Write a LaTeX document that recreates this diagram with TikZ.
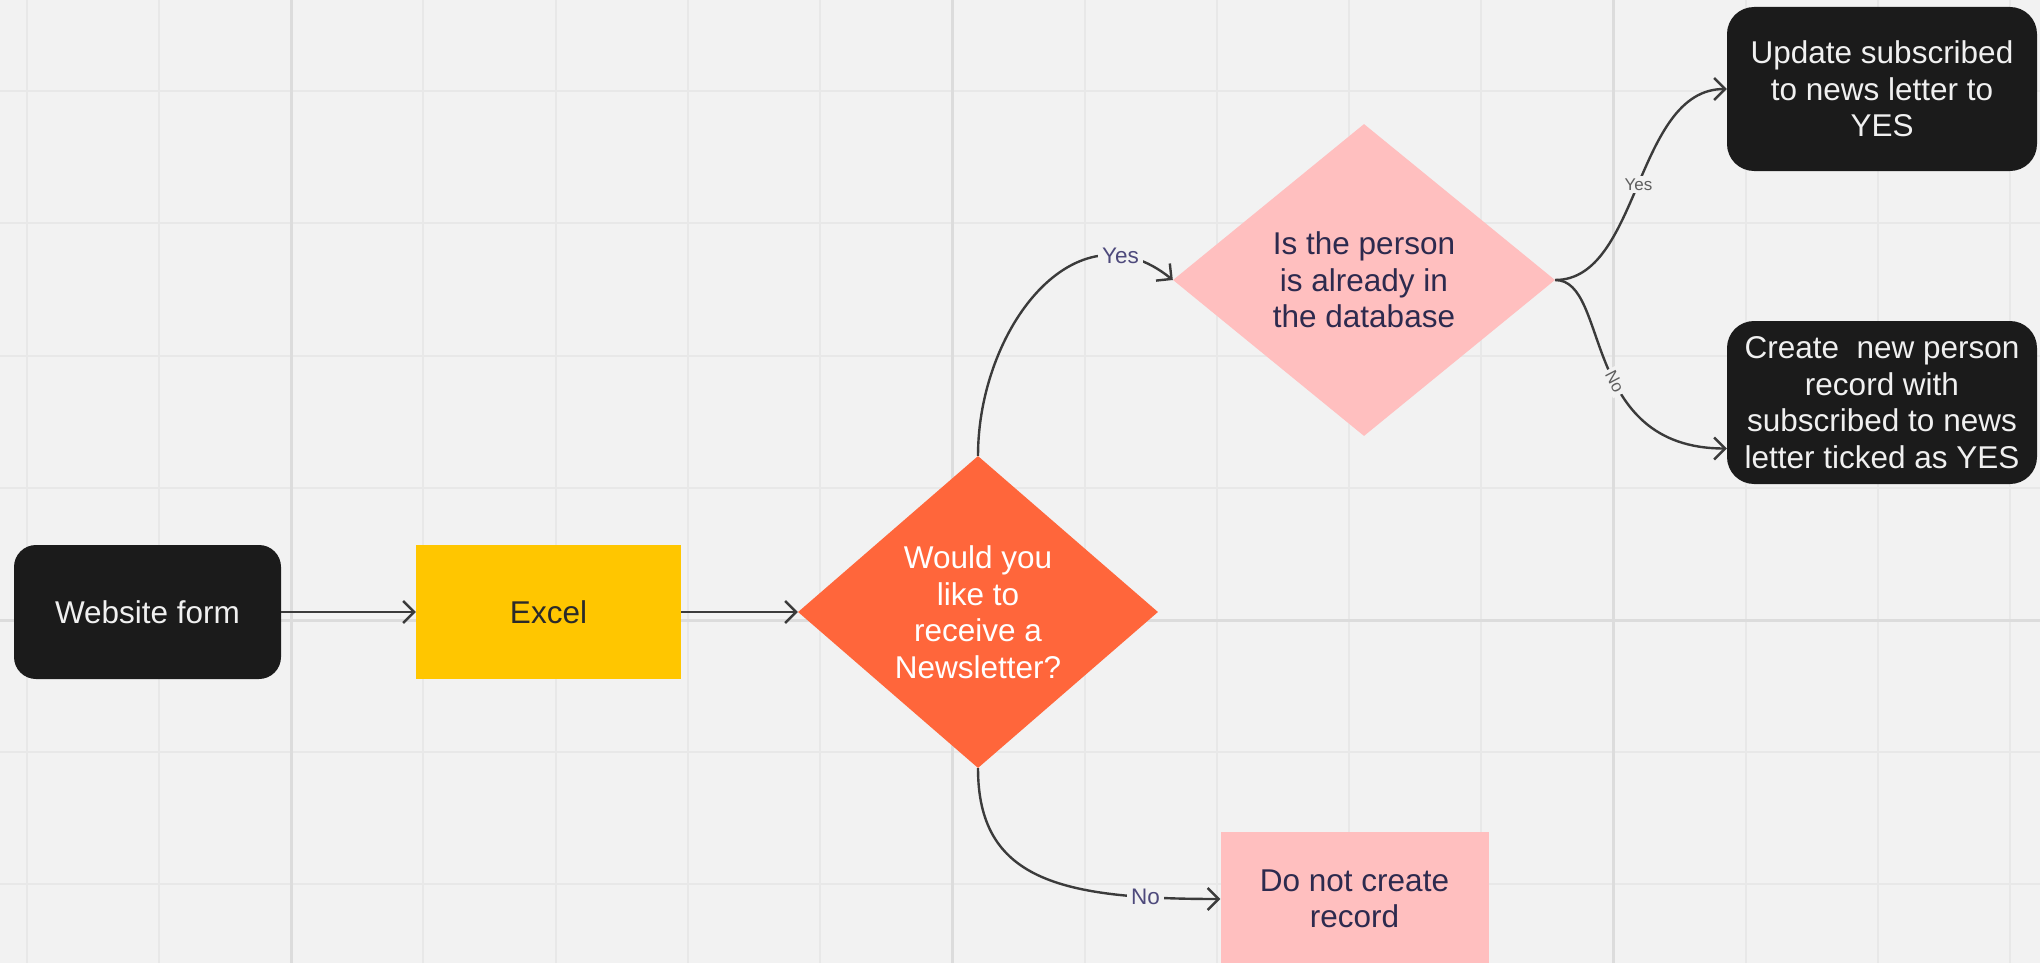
\documentclass[tikz,border=0pt]{standalone}
\usepackage{fontspec}
\setmainfont{Liberation Sans}
\usetikzlibrary{shapes.geometric,arrows.meta}
\definecolor{bg}{HTML}{F2F2F2}
\definecolor{gridminor}{HTML}{E8E8E8}
\definecolor{gridmajor}{HTML}{DCDCDC}
\definecolor{boxblack}{HTML}{1B1B1B}
\definecolor{excelyellow}{HTML}{FFC600}
\definecolor{orangedia}{HTML}{FF663B}
\definecolor{pinkfill}{HTML}{FFBFBF}
\definecolor{navytext}{HTML}{2D2A4E}
\definecolor{darktext}{HTML}{2A2A2A}
\definecolor{lblpurple}{HTML}{4E4A7C}
\definecolor{lblgray}{HTML}{5E5E5E}
\definecolor{conncol}{HTML}{3B3B3B}
\definecolor{whitetext}{HTML}{F0F0F0}
\begin{document}
\begin{tikzpicture}[x=1pt,y=-1pt,
  maintext/.style={font=\fontsize{31.5}{36.5}\selectfont, align=center, inner sep=0pt},
  blackbox/.style={maintext, rectangle, fill=boxblack, text=whitetext},
  flatbox/.style={maintext, rectangle},
  decision/.style={maintext, diamond},
  conn/.style={draw=conncol, line width=2.4pt, -{Straight Barb[length=11pt,width=22pt]}},
  lblleft/.style={fill=bg, text=lblpurple, inner sep=4pt, font=\fontsize{22.5}{26}\selectfont},
  lblright/.style={fill=bg, text=lblgray, inner sep=3pt, font=\fontsize{17}{20}\selectfont}
]
\useasboundingbox (0,0) rectangle (2040,963);
\fill[bg] (0,0) rectangle (2040,963);
% grid
\foreach \i in {0,...,15} {
  \draw[gridminor, line width=2pt] ({26.6+132.25*\i},0) -- ({26.6+132.25*\i},963);
}
\foreach \j in {0,...,6} {
  \draw[gridminor, line width=2pt] (0,{91.2+132.2*\j}) -- (2040,{91.2+132.2*\j});
}
\foreach \i in {2,7,12} {
  \draw[gridmajor, line width=3pt] ({26.6+132.25*\i},0) -- ({26.6+132.25*\i},963);
}
\draw[gridmajor, line width=3pt] (0,620) -- (2040,620);

% nodes
\node[blackbox, rounded corners=22pt, minimum width=267pt, minimum height=134pt] (w) at (147.5,612) {Website form};
\node[flatbox, fill=excelyellow, text=darktext, minimum width=265pt, minimum height=134pt] (e) at (548.5,612) {Excel};
\node[decision, fill=orangedia, text=white, minimum width=360pt, minimum height=312pt] (o) at (978,612) {Would you\\like to\\receive a\\Newsletter?};
\node[decision, fill=pinkfill, text=navytext, minimum width=382pt, minimum height=312pt] (p) at (1364,280) {Is the person\\is already in\\the database};
\node[blackbox, rounded corners=27pt, minimum width=310pt, minimum height=164pt] (u) at (1882,89) {Update subscribed\\to news letter to\\YES};
\node[blackbox, rounded corners=27pt, minimum width=310pt, minimum height=163pt] (c) at (1882,402.5) {Create\ \ new person\\record with\\subscribed to news\\letter ticked as YES};
\node[flatbox, fill=pinkfill, text=navytext, minimum width=268pt, minimum height=134pt] (d) at (1354.5,899) {Do not create\\record};

% connectors
\draw[conn] (w.east) -- (e.west);
\draw[conn] (e.east) -- (o.west);
\draw[conn] (o.north) .. controls +(0,-126) and +(-98,-79) .. (p.west)
  node[lblleft, pos=0.82] (ly) {Yes};
\draw[conn] (o.south) .. controls +(0,112) and +(-160,0) .. (d.west)
  node[lblleft, pos=0.83] (ln) {No};
\draw[conn] (p.east) .. controls +(85,0) and +(-92,0) .. (u.west)
  node[lblright, pos=0.5] (ry) {Yes};
\draw[conn] (p.east) .. controls +(55,0) and +(-147,0) .. ([yshift=-46pt]c.west)
  node[lblright, pos=0.57, sloped] (rn) {No};
\end{tikzpicture}
\end{document}
